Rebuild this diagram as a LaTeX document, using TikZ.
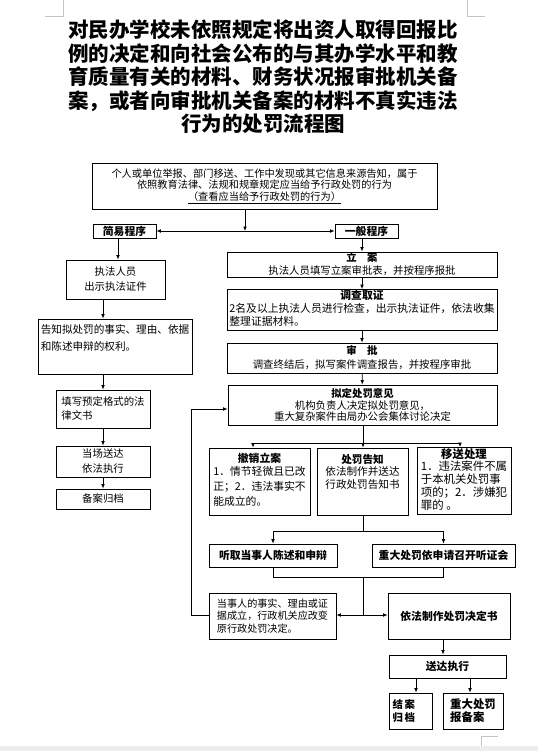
\documentclass[tikz,border=0pt]{standalone}
\usepackage{fontspec}
\setmainfont{Noto Sans CJK SC}
\usetikzlibrary{positioning,arrows.meta,calc}
\definecolor{markgray}{HTML}{C4C4C4}
\definecolor{edgegray}{HTML}{EDEDED}

\tikzset{
  box/.style={draw,line width=0.8pt,inner sep=1pt,align=center,font=\fontsize{10.4}{15}\selectfont},
  head/.style={font=\fontsize{10.8}{12}\selectfont\bfseries},
  flow/.style={-{Latex[length=4.5pt,width=3.8pt]},line width=0.8pt},
  link/.style={line width=0.8pt},
}

\begin{document}
\begin{tikzpicture}[x=1pt,y=-1pt]
  \useasboundingbox (0,0) rectangle (538,751);
  % page marks
  \draw[markgray,line width=0.7pt] (45,16) -- (63,16) -- (63,0);
  \draw[markgray,line width=0.7pt] (467,0) -- (467,16) -- (485,16);
  \draw[markgray,line width=0.7pt] (498,736) -- (481,736) -- (481,746);
  \fill[edgegray] (0,746) rectangle (538,751);

  \node[font=\fontsize{20.5}{23.5}\selectfont\bfseries,align=center] (title) at (263,77) {对民办学校未依照规定将出资人取得回报比\\例的决定和向社会公布的与其办学水平和教\\育质量有关的材料、财务状况报审批机关备\\案，或者向审批机关备案的材料不真实违法\\行为的处罚流程图};

  \node[box,minimum width=345pt,minimum height=46pt,font=\fontsize{10.2}{11.5}\selectfont] (report) at (264.5,186) {个人或单位举报、部门移送、工作中发现或其它信息来源告知，属于\\依照教育法律、法规和规章规定应当给予行政处罚的行为\\\underline{（查看应当给予行政处罚的行为）}};
  \node[box,head,minimum width=63pt,minimum height=14pt] (simple) at (124.5,231) {简易程序};
  \node[box,head,minimum width=63pt,minimum height=14pt] (general) at (366.5,231) {一般程序};
  \coordinate (split) at (245,231);

  % simple procedure
  \node[box,minimum width=99pt,minimum height=39pt] (show) at (115.5,279.5) {执法人员\\出示执法证件};
  \node[box,align=left,minimum width=154pt,minimum height=55pt,font=\fontsize{10.6}{17}\selectfont] (inform) at (115,346.5) {告知拟处罚的事实、理由、依据\\和陈述申辩的权利。\\~};
  \node[box,align=left,minimum width=94pt,minimum height=38pt,font=\fontsize{10.4}{14}\selectfont] (fillin) at (103,409) {填写预定格式的法\\律文书};
  \node[box,minimum width=94pt,minimum height=31pt] (deliver) at (103,461.5) {当场送达\\依法执行};
  \node[box,minimum width=94pt,minimum height=20pt] (file) at (103,499) {备案归档};

  % general procedure
  \node[box,minimum width=270pt,minimum height=23pt,font=\fontsize{10.4}{13}\selectfont] (register) at (362,264.5) {\textbf{立　案}\\执法人员填写立案审批表，并按程序报批};
  \node[box,minimum width=270pt,minimum height=38pt,font=\fontsize{10.8}{12.5}\selectfont] (inquiry) at (362,310) {\textbf{调查取证}\\[2pt]\begin{tabular}{@{}l@{}}2名及以上执法人员进行检查，出示执法证件，依法收集\\整理证据材料。\end{tabular}};
  \node[box,minimum width=270pt,minimum height=30pt,font=\fontsize{10.4}{14}\selectfont] (approve) at (362,358) {\textbf{审　批}\\调查终结后，拟写案件调查报告，并按程序审批};
  \node[box,minimum width=269pt,minimum height=40pt,font=\fontsize{10.4}{11.8}\selectfont] (opinion) at (362.5,405) {\textbf{拟定处罚意见}\\机构负责人决定拟处罚意见，\\重大复杂案件由局办公会集体讨论决定};

  \node[box,minimum width=101pt,minimum height=67pt,font=\fontsize{10.8}{15}\selectfont] (revoke) at (259.5,481.5) {\textbf{撤销立案}\\\begin{tabular}{@{}l@{}}1．情节轻微且已改\\正；2．违法事实不\\能成立的。\end{tabular}};
  \node[box,minimum width=91pt,minimum height=67pt,font=\fontsize{10.6}{12.5}\selectfont] (notice) at (362.5,481.5) {\textbf{处罚告知}\\依法制作并送达\\行政处罚告知书\\[8pt]~};
  \node[box,minimum width=94pt,minimum height=66pt,font=\fontsize{11.4}{12.3}\selectfont] (transfer) at (464,481) {\textbf{移送处理}\\\begin{tabular}{@{}l@{}}1．违法案件不属\\于本机关处罚事\\项的；2．涉嫌犯\\罪的 。\end{tabular}};

  \node[box,head,minimum width=128pt,minimum height=23pt] (hear) at (273,555.5) {听取当事人陈述和申辩};
  \node[box,head,minimum width=143pt,minimum height=23pt] (hearing) at (443.5,555.5) {重大处罚依申请召开听证会};
  \node[box,align=left,minimum width=127pt,minimum height=46pt,font=\fontsize{10.1}{12.5}\selectfont] (change) at (272.5,616) {当事人的事实、理由或证\\据成立，行政机关应改变\\原行政处罚决定。};
  \node[box,head,minimum width=122pt,minimum height=46pt] (decide) at (449,616) {依法制作处罚决定书};
  \node[box,head,minimum width=117pt,minimum height=23pt] (execute) at (447.5,666.5) {送达执行};
  \node[box,head,align=left,text width=36pt,minimum width=43pt,minimum height=36pt,font=\fontsize{10.4}{13}\selectfont\bfseries] (close) at (410.5,711) {结\,案\\归\,档};
  \node[box,head,align=left,minimum width=60pt,minimum height=36pt,font=\fontsize{11.4}{13}\selectfont\bfseries] (report2) at (473,711) {重大处罚\\报备案};

  \coordinate (fork1) at (363,443);
  \coordinate (fork2) at (363,531);
  \coordinate (merge) at (363,577);
  \coordinate (join) at (363,615);

  % connectors
  \draw[flow] (report.south -| split) -- (split);
  \draw[flow] (split) -- (simple.east);
  \draw[flow] (split) -- (general.west);
  \draw[flow] ([xshift=-6.5pt]simple.south) -- ([xshift=-6.5pt]simple.south |- show.north);
  \draw[flow] (show.south -| fillin) -- (inform.north -| fillin);
  \draw[flow] (inform.south -| fillin) -- (fillin.north);
  \draw[flow] (fillin) -- (deliver);
  \draw[flow] (deliver) -- (file);
  \draw[flow] (general.south -| register) -- (register.north);
  \draw[flow] (register) -- (inquiry);
  \draw[flow] (inquiry) -- (approve);
  \draw[flow] (approve) -- (opinion);
  \draw[link] (opinion.south -| fork1) -- (fork1);
  \draw[link] (253,443) -- (460,443);
  \draw[flow] (253,443) -- (253,443 |- revoke.north);
  \draw[flow] (fork1) -- (fork1 |- notice.north);
  \draw[flow] (460,443) -- (460,443 |- transfer.north);
  \draw[link] (notice.south -| fork2) -- (fork2);
  \draw[link] (hear |- fork2) -- (hearing |- fork2);
  \draw[flow] (hear |- fork2) -- (hear.north);
  \draw[flow] (hearing |- fork2) -- (hearing.north);
  \draw[link] (hear.south) -- (hear.south |- merge) -- (hearing.south |- merge) -- (hearing.south);
  \draw[link] (merge) -- (join);
  \draw[flow] (join) -- (join -| change.east);
  \draw[flow] (join) -- (join -| decide.west);
  \draw[flow] (change.west |- join) -- ++(-17,0) |- ([yshift=-4pt]opinion.west);
  \draw[flow] ([xshift=-6pt]decide.south) -- ([xshift=-6pt]decide.south |- execute.north);
  \draw[flow] ([xshift=5.5pt]close.north |- execute.south) -- ([xshift=5.5pt]close.north);
  \draw[flow] ([xshift=-3pt]report2.north |- execute.south) -- ([xshift=-3pt]report2.north);
\end{tikzpicture}
\end{document}
